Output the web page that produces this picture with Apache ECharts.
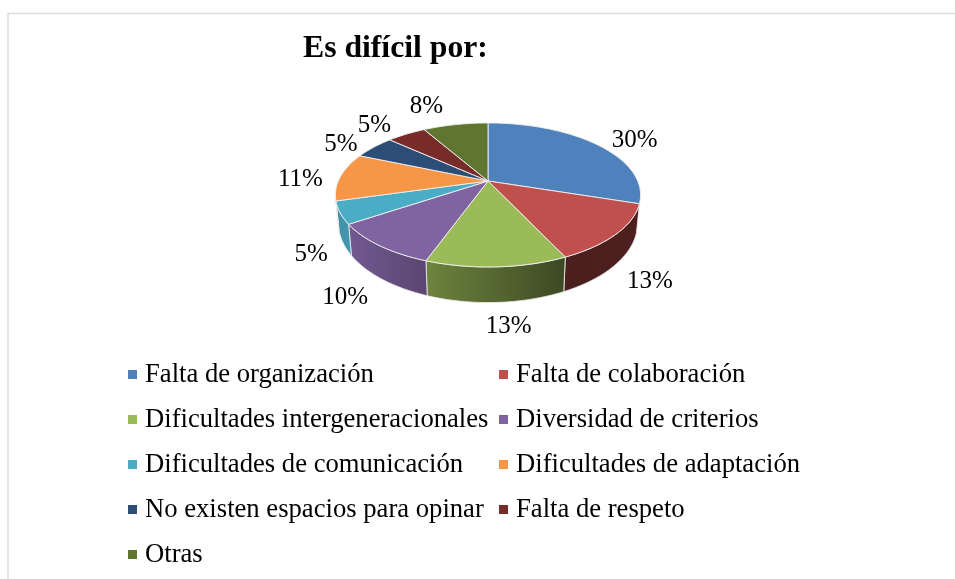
<!DOCTYPE html>
<html>
<head>
<meta charset="utf-8">
<style>html,body{margin:0;padding:0;background:#fff}#c{width:955px;height:579px}</style>
<script src="https://cdn.jsdelivr.net/npm/echarts@6/dist/echarts.min.js"></script>
</head>
<body>
<div id="c"></div>
<script>
const titleText = 'Es difícil por:';
const categories = ['Falta de organización','Falta de colaboración','Dificultades intergeneracionales','Diversidad de criterios','Dificultades de comunicación','Dificultades de adaptación','No existen espacios para opinar','Falta de respeto','Otras'];
const values = [30, 13, 12.5, 10.1, 5, 10.8, 5.3, 5, 8.3];
const colors = ['#4f81bd','#c0504d','#9bbb59','#8064a2','#4bacc6','#f79646','#2c4d75','#772c2a','#5f7530'];

// layout (not data)
const SERIF = '"Liberation Serif","Times New Roman",serif';
const cx = 488, cy = 181, A = 149.7, B = 69.3, P = 0.194;
const labelNudge = [[38,-4],[33,48],[12,60],[-34,52],[-29,42],[-40,3],[-33,-3],[-32,-9],[-29,-18]];
const legendCols = [128, 499], legendTop0 = 361, legendStep = 45;
const wallFrom = 108*Math.PI/180, wallTo = 254.5*Math.PI/180;

const total = values.reduce((a,b)=>a+b,0);
const starts = values.map((_,i)=>values.slice(0,i).reduce((a,b)=>a+b,0)/total);

function rim(t){
  const u=Math.sin(t), v=Math.cos(t), w=1+P*v;
  return [A*u/w, -B*v/w];
}
const top3 = t => { const r=rim(t); return [cx+r[0], cy+r[1]]; };
const bot3 = t => { const r=rim(t); return [cx+0.98*r[0], cy+1.1*r[1]+27]; };
function shade(hex,f){
  const n=parseInt(hex.slice(1),16);
  const c=[n>>16&255,n>>8&255,n&255].map(x=>Math.round(x*f));
  return 'rgb('+c.join(',')+')';
}
function wallFill(col){
  const x0=336,x1=641,s=(x,f)=>({offset:(x-x0)/(x1-x0),color:shade(col,f)});
  return new echarts.graphic.LinearGradient(x0,0,x1,0,[s(336,0.85),s(351,0.88),s(428,0.7),s(565,0.39),s(641,0.4)],true);
}
function sliceItem(i){
  return function(params, api){
    const frac = api.value(0)/total, a0 = starts[i]*2*Math.PI, a1 = (starts[i]+frac)*2*Math.PI;
    const tp=[], N=Math.max(4,Math.ceil(frac*160));
    for(let k=0;k<=N;k++){ tp.push(top3(a0+(a1-a0)*k/N)); }
    const mid=top3((a0+a1)/2), n=labelNudge[i];
    const children=[];
    const w0=Math.max(a0,wallFrom), w1=Math.min(a1,wallTo);
    if(w1-w0>1e-3){
      const wt=[],wb=[];
      for(let k=0;k<=N;k++){ const t=w0+(w1-w0)*k/N; wt.push(top3(t)); wb.push(bot3(t)); }
      children.push({type:'polygon',z2:1,silent:true,shape:{points:wt.concat(wb.reverse())},
        style:{fill:wallFill(colors[i]),stroke:'rgba(235,235,235,0.85)',lineWidth:1}});
    }
    children.push({type:'polygon',z2:5,silent:true,shape:{points:[[cx,cy]].concat(tp)},
      style:{fill:colors[i],stroke:'rgba(240,240,240,0.9)',lineWidth:1}});
    children.push({type:'text',z2:10,silent:true,style:{text:Math.round(api.value(0))+'%',x:mid[0]+n[0],y:mid[1]+n[1],
      align:'center',verticalAlign:'middle',fontFamily:SERIF,fontSize:25,fill:'#000'}});
    return {type:'group',children};
  };
}
const chart = echarts.init(document.getElementById('c'),null,{renderer:'canvas'});
chart.setOption({
  animation:false,
  backgroundColor:'#fff',
  color:colors,
  title:{text:titleText,left:303,top:33,padding:0,textStyle:{fontFamily:SERIF,fontSize:31.7,fontWeight:'bold',color:'#000'}},
  legend:categories.map((c,i)=>({
    data:[c],selectedMode:false,icon:'rect',itemWidth:9,itemHeight:9,padding:0,
    left:legendCols[i%2],top:legendTop0+legendStep*Math.floor(i/2),
    textStyle:{fontFamily:SERIF,fontSize:26.65,color:'#000',padding:[3,0,0,3]}
  })),
  graphic:[
    {type:'line',shape:{x1:8,y1:13.5,x2:955,y2:13.5},style:{stroke:'#dcdcdc',lineWidth:1.5}},
    {type:'line',shape:{x1:8,y1:13,x2:8,y2:579},style:{stroke:'#dcdcdc',lineWidth:1.5}}
  ],
  series:categories.map((c,i)=>({
    type:'custom',name:c,coordinateSystem:'none',itemStyle:{color:colors[i]},
    data:[[values[i]]],renderItem:sliceItem(i)
  }))
});
</script>
</body>
</html>
